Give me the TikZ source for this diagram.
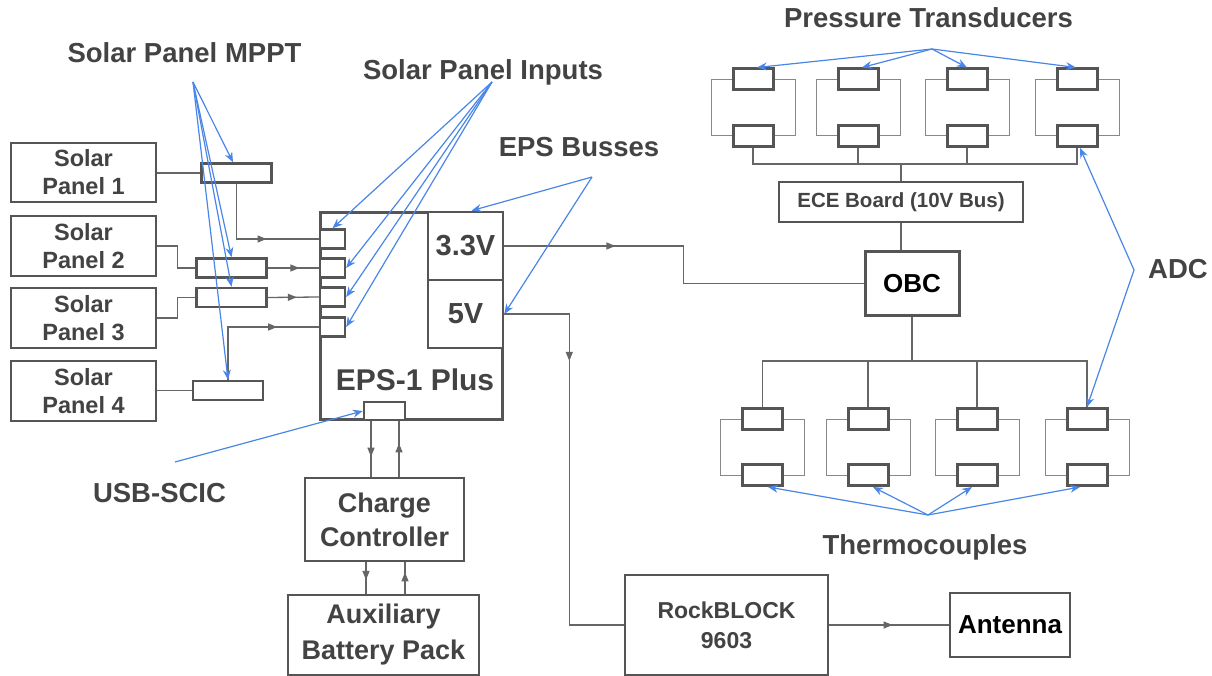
\documentclass[tikz,border=0pt]{standalone}
\usepackage{fontspec}
\setmainfont{Liberation Sans}
\usetikzlibrary{arrows.meta,decorations.markings}

\definecolor{txtgray}{HTML}{434343}
\definecolor{linegray}{HTML}{555555}
\definecolor{wiregray}{HTML}{666666}
\definecolor{loopgray}{HTML}{888888}
\definecolor{noteblue}{HTML}{4A86E8}

\tikzset{
  block/.style={draw=linegray, line width=2.6pt, fill=white, text=txtgray, align=center,
    inner sep=0pt, font=\bfseries\fontsize{23.5}{28}\selectfont},
  port/.style={draw=linegray, line width=2.4pt, fill=white, inner sep=0pt,
    minimum width=25pt, minimum height=19pt},
  mpptbox/.style={draw=linegray, line width=2.4pt, fill=white, inner sep=0pt,
    minimum width=70pt, minimum height=19pt},
  sensor/.style={draw=linegray, line width=3pt, fill=white, inner sep=0pt,
    minimum width=40pt, minimum height=21pt},
  wire/.style={color=wiregray, line width=1.3pt},
  loopwire/.style={draw=loopgray, line width=1pt},
  note/.style={text=txtgray, font=\bfseries\fontsize{27.5}{33}\selectfont, inner sep=0pt, anchor=base},
  pointer/.style={draw=noteblue, line width=1.2pt, -{Stealth[length=10pt,width=8pt]}},
  midarr/.style={postaction={decorate, decoration={markings,
    mark=at position #1 with {\arrow{Triangle[length=9pt,width=7pt]}}}}},
}

\begin{document}
\begin{tikzpicture}[x=1pt, y=-1pt]
    \useasboundingbox (0,0) rectangle (1212,676);

    % solar panels and MPPT
    \node[block, minimum width=145pt, minimum height=59pt] (sp1) at (83.5,172.5) {Solar\\Panel 1};
    \node[block, minimum width=145pt, minimum height=60pt] (sp2) at (83.5,246) {Solar\\Panel 2};
    \node[block, minimum width=145pt, minimum height=60pt] (sp3) at (83.5,318) {Solar\\Panel 3};
    \node[block, minimum width=145pt, minimum height=60pt] (sp4) at (83.5,391) {Solar\\Panel 4};
    \node[mpptbox] (mppt1) at (236.5,173) {};
    \node[mpptbox] (mppt2) at (231.5,268) {};
    \node[mpptbox] (mppt3) at (231.5,297.5) {};
    \node[mpptbox] (mppt4) at (228,390.5) {};

    % EPS board
    \node[block, minimum width=182pt, minimum height=207pt] (eps) at (411.5,316) {};
    \node[block, minimum width=75pt, minimum height=68pt, font=\bfseries\fontsize{29}{34}\selectfont] (v33) at (465.5,246) {3.3V};
    \node[block, minimum width=75pt, minimum height=68pt, font=\bfseries\fontsize{29}{34}\selectfont] (v5) at (465.5,314) {5V};
    \node[text=txtgray, font=\bfseries\fontsize{30}{35}\selectfont, anchor=base, inner sep=0pt] (epsname) at (415,390) {EPS-1 Plus};
    \node[port] (in1) at (332.5,239) {};
    \node[port] (in2) at (332.5,268) {};
    \node[port] (in3) at (332.5,297) {};
    \node[port] (in4) at (332.5,327) {};
    \node[port, minimum width=41pt, minimum height=18pt] (usb) at (384.5,411) {};

    \node[block, minimum width=159pt, minimum height=83pt, font=\bfseries\fontsize{27}{34}\selectfont] (charge) at (384.5,519.5) {Charge\\Controller};
    \node[block, minimum width=191pt, minimum height=80pt, font=\bfseries\fontsize{27}{36}\selectfont] (batt) at (383.5,635) {Auxiliary\\Battery Pack};

    \node[block, minimum width=203pt, minimum height=100pt, font=\bfseries\fontsize{23}{30}\selectfont] (rock) at (726.5,625) {RockBLOCK\\9603};
    \node[block, minimum width=120pt, minimum height=64pt, text=black, font=\bfseries\fontsize{26}{30}\selectfont] (ant) at (1010,625) {Antenna};
    \node[block, minimum width=94pt, minimum height=63pt, line width=3pt, text=black, font=\bfseries\fontsize{26}{30}\selectfont] (obc) at (912,283.5) {OBC};
    \node[block, minimum width=244pt, minimum height=40pt, font=\bfseries\fontsize{20.5}{24}\selectfont] (ece) at (901,202) {ECE Board (10V Bus)};

    % sensors
    \foreach \i/\cx in {1/753, 2/858, 3/967, 4/1077} {
        \node[sensor] (pa\i) at (\cx,79.5) {};
        \node[sensor] (pb\i) at (\cx,136) {};
        \draw[loopwire] (pa\i.west) -- ++(-20.5,0) |- (pb\i.west);
        \draw[loopwire] (pa\i.east) -- ++(20.5,0) |- (pb\i.east);
    }
    \foreach \i/\cx in {1/762.5, 2/868, 3/977, 4/1087} {
        \node[sensor] (ta\i) at (\cx,419) {};
        \node[sensor] (tb\i) at (\cx,475) {};
        \draw[loopwire] (ta\i.west) -- ++(-20.5,0) |- (tb\i.west);
        \draw[loopwire] (ta\i.east) -- ++(20.5,0) |- (tb\i.east);
    }
    \coordinate (pbus) at (902,164);
    \coordinate (tbus) at (912,361);

    % wires
    \draw[wire] (mppt1.west -| sp1.east) -- (mppt1.west);
    \draw[wire] (sp2.east) -- ++(20,0) |- (mppt2.west);
    \draw[wire] (sp3.east) -- ++(20,0) |- (mppt3.west);
    \draw[wire] (mppt4.west -| sp4.east) -- (mppt4.west);
    \draw[wire, midarr=0.62] (mppt1.south) |- (in1.west);
    \draw[wire, midarr=0.62] (mppt2.east) -- (in2.west);
    \draw[wire, midarr=0.57] (mppt3.east) -- (in3.west);
    \draw[wire, midarr=0.71] (mppt4.north) |- (in4.west);

    \draw[wire, midarr=0.64] ([xshift=-13.5pt]usb.south) -- ([xshift=-13.5pt]usb.south |- charge.north);
    \draw[wire, midarr=0.6] ([xshift=14.5pt]usb.south |- charge.north) -- ([xshift=14.5pt]usb.south);
    \draw[wire, midarr=0.56] ([xshift=-18.5pt]charge.south) -- ([xshift=-18.5pt]charge.south |- batt.north);
    \draw[wire, midarr=0.68] ([xshift=20.5pt]charge.south |- batt.north) -- ([xshift=20.5pt]charge.south);

    \draw[wire, midarr=0.28] (v33.east) -- ++(179,0) |- (obc.west);
    \draw[wire, midarr=0.26] (v5.east) -- ++(65,0) |- (rock.west);
    \draw[wire, midarr=0.53] (rock.east) -- (ant.west);

    \draw[wire] (pb1.south) |- (pbus) -| (pb4.south);
    \draw[wire] (pb2.south) -- (pb2.south |- pbus);
    \draw[wire] (pb3.south) -- (pb3.south |- pbus);
    \draw[wire] (ece.north) -- (ece.north |- pbus);
    \draw[wire] (ece.south) -- (ece.south |- obc.north);
    \draw[wire] (obc.south) -- (tbus);
    \draw[wire] (ta1.north) |- (tbus) -| (ta4.north);
    \draw[wire] (ta2.north) -- (ta2.north |- tbus);
    \draw[wire] (ta3.north) -- (ta3.north |- tbus);

    % labels
    \node[note] (lblmppt) at (184.5,63) {Solar Panel MPPT};
    \node[note] (lblinputs) at (483,80) {Solar Panel Inputs};
    \node[note] (lblbusses) at (579,157) {EPS Busses};
    \node[note] (lblpt) at (928.5,28) {Pressure Transducers};
    \node[note] (lbltc) at (925,554) {Thermocouples};
    \node[note, anchor=base west] (lbladc) at (1148,279) {ADC};
    \node[note] (lblusb) at (159.5,502) {USB-SCIC};

    \coordinate (mpptsrc) at (193,82);
    \coordinate (inputsrc) at (492,82);
    \coordinate (bussrc) at (592,177);
    \coordinate (ptsrc) at (932,49);
    \coordinate (tcsrc) at (928,515);
    \coordinate (adcsrc) at (1134,270);
    \coordinate (usbsrc) at (175,462);

    % pointers
    \draw[pointer] (mpptsrc) -- ([xshift=-3.5pt]mppt1.north);
    \draw[pointer] (mpptsrc) -- (mppt2.north);
    \draw[pointer] (mpptsrc) -- (mppt3.north);
    \draw[pointer] (mpptsrc) -- (mppt4.north);
    \draw[pointer] (inputsrc) -- (in1.north);
    \draw[pointer] (inputsrc) -- (in2.east);
    \draw[pointer] (inputsrc) -- (in3.east);
    \draw[pointer] (inputsrc) -- (in4.east);
    \draw[pointer] (bussrc) -- ([xshift=6pt]v33.north);
    \draw[pointer] (bussrc) -- (v5.east);
    \foreach \i/\dx in {1/4, 2/4, 3/0, 4/-1} {
        \draw[pointer] (ptsrc) -- ([xshift=\dx pt]pa\i.north);
    }
    \foreach \i/\dx in {1/5.5, 2/5, 3/-5, 4/-7} {
        \draw[pointer] (tcsrc) -- ([xshift=\dx pt]tb\i.south);
    }
    \draw[pointer] (adcsrc) -- ([xshift=3pt]pb4.south);
    \draw[pointer] (adcsrc) -- (ta4.north);
    \draw[pointer] (usbsrc) -- (usb.west);
\end{tikzpicture}
\end{document}
